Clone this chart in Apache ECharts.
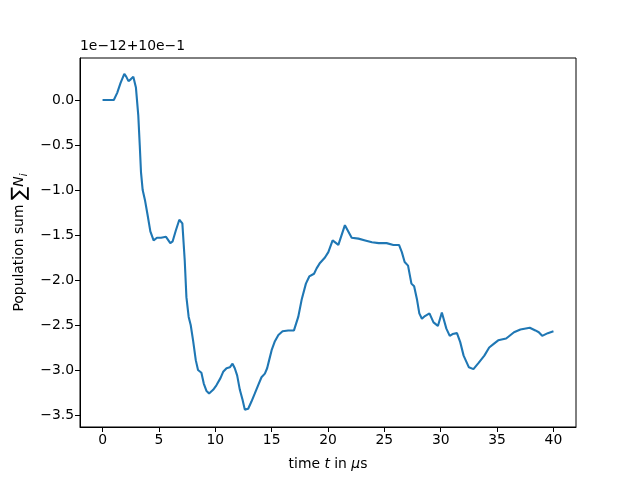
<!DOCTYPE html>
<html><head><meta charset="utf-8">
<script src="https://cdn.jsdelivr.net/npm/echarts@6/dist/echarts.min.js"></script>
<style>html,body{margin:0;padding:0;background:#fff}#c{width:640px;height:480px}</style>
</head><body><div id="c"></div>
<script>
// time in microseconds
const times = [0,0.5,1.0,1.3,1.6,1.93,2.1,2.3,2.5,2.73,2.96,3.17,3.3,3.41,3.56,3.76,4.0,4.24,4.53,4.83,5.19,5.36,5.63,6.01,6.22,6.5,6.81,6.95,7.08,7.29,7.44,7.64,7.82,8.03,8.27,8.47,8.77,8.98,9.21,9.45,9.81,10.1,10.46,10.7,11.0,11.29,11.53,11.73,11.94,12.18,12.42,12.62,12.92,13.21,13.51,13.8,14.1,14.4,14.6,14.78,15.0,15.29,15.6,15.97,16.47,16.98,17.36,17.66,18.04,18.34,18.76,18.99,19.29,19.73,20.03,20.41,20.92,21.5,22.1,22.7,23.3,23.9,24.5,25.2,25.8,26.3,26.55,26.8,27.1,27.4,27.64,27.9,28.1,28.33,28.6,29.0,29.36,29.75,30.1,30.5,30.8,31.05,31.44,31.73,32.03,32.5,32.9,33.36,33.87,34.3,34.7,35.1,35.8,36.0,36.5,37.07,37.9,38.4,38.7,39.0,39.5,40.0];
// population sum deviation, in units of 1e-12 (offset 10e-1)
const popSum = [0,0,0,0.08,0.19,0.29,0.26,0.21,0.23,0.26,0.14,-0.17,-0.5,-0.80,-1.0,-1.11,-1.28,-1.46,-1.56,-1.53,-1.53,-1.55,-1.52,-1.59,-1.57,-1.45,-1.33,-1.35,-1.37,-1.78,-2.19,-2.41,-2.50,-2.67,-2.89,-3.00,-3.03,-3.15,-3.23,-3.26,-3.22,-3.17,-3.09,-3.02,-2.98,-2.97,-2.93,-2.98,-3.06,-3.22,-3.33,-3.44,-3.43,-3.35,-3.26,-3.17,-3.08,-3.04,-2.98,-2.89,-2.78,-2.68,-2.61,-2.57,-2.56,-2.56,-2.41,-2.22,-2.04,-1.96,-1.93,-1.87,-1.81,-1.75,-1.69,-1.56,-1.61,-1.39,-1.53,-1.54,-1.56,-1.58,-1.59,-1.59,-1.61,-1.61,-1.69,-1.80,-1.84,-2.04,-2.07,-2.22,-2.37,-2.43,-2.40,-2.37,-2.47,-2.51,-2.36,-2.54,-2.62,-2.60,-2.59,-2.69,-2.84,-2.97,-2.99,-2.92,-2.84,-2.75,-2.71,-2.67,-2.65,-2.63,-2.58,-2.55,-2.53,-2.56,-2.58,-2.62,-2.59,-2.57];
const xTicks = [0,5,10,15,20,25,30,35,40];
const yTicks = [-3.5,-3.0,-2.5,-2.0,-1.5,-1.0,-0.5,0.0];
const offsetText = '1e\u221212+10e\u22121';

const FONT = 'DejaVu Sans';
const chart = echarts.init(document.getElementById('c'), null, {renderer:'canvas'});
const fmt = v => (v < 0 ? '\u2212' : '') + Math.abs(v).toFixed(1);
chart.setOption({
  animation:false,
  grid:{left:80,right:64,top:58,bottom:53,show:true,borderColor:'#000',borderWidth:1,backgroundColor:'transparent'},
  xAxis:{type:'value',min:-2,max:42,
    axisLine:{show:true,onZero:false,lineStyle:{color:'#000',width:1}},
    axisTick:{show:true,inside:false,length:5,lineStyle:{color:'#000'},customValues:xTicks},
    axisLabel:{color:'#000',fontFamily:FONT,fontSize:13.9,margin:6,customValues:xTicks,formatter:v=>String(v)},
    splitLine:{show:false},
    name:'{n|time }{i|t}{n| in }{i|\u03bc}{n|s}',nameLocation:'middle',nameGap:30,
    nameTextStyle:{rich:{n:{fontFamily:FONT,fontSize:13.9,color:'#000'},i:{fontFamily:FONT,fontStyle:'italic',fontSize:13.9,color:'#000'}}}
  },
  yAxis:{type:'value',min:-3.633,max:0.467,
    axisLine:{show:true,onZero:false,lineStyle:{color:'#000',width:1}},
    axisTick:{show:true,inside:false,length:5,lineStyle:{color:'#000'},customValues:yTicks},
    axisLabel:{color:'#000',fontFamily:FONT,fontSize:13.9,margin:6,customValues:yTicks,formatter:fmt},
    splitLine:{show:false},
    name:'{n|Population sum }{s|\u2211}{i|N}{sub|i}',nameLocation:'middle',nameRotate:90,nameGap:50,
    nameTextStyle:{rich:{n:{fontFamily:FONT,fontSize:13.9,color:'#000'},s:{fontFamily:FONT,fontSize:20,color:'#000'},i:{fontFamily:FONT,fontStyle:'italic',fontSize:13.9,color:'#000'},sub:{fontFamily:FONT,fontStyle:'italic',fontSize:10,color:'#000',verticalAlign:'bottom'}}}
  },
  graphic:[{type:'text',left:80,top:39,style:{text:offsetText,font:'13.9px "DejaVu Sans"',fill:'#000'}}],
  series:[{type:'line',data:times.map((t,i)=>[t,popSum[i]]),showSymbol:false,symbol:'none',
    lineStyle:{color:'#1f77b4',width:2.1},itemStyle:{color:'#1f77b4'}}]
});
</script></body></html>
